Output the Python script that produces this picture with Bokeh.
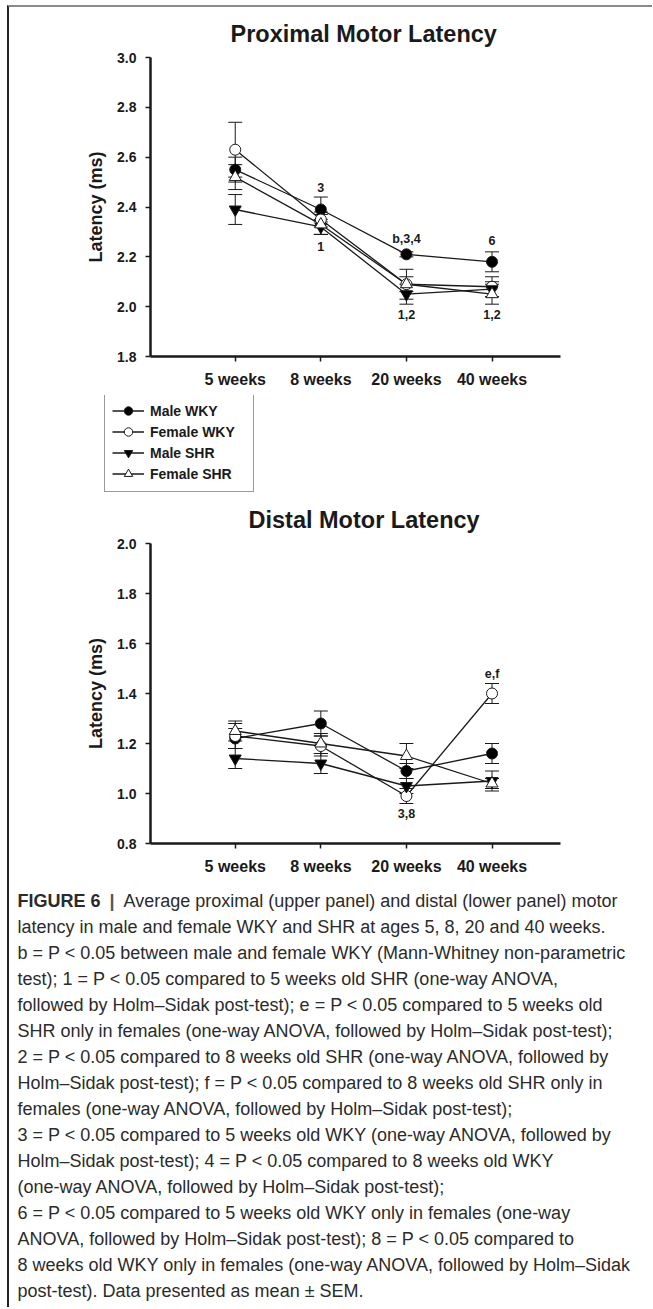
from bokeh.plotting import figure
from bokeh.models import Range1d, FixedTicker, Legend, LegendItem, PrintfTickFormatter
from bokeh.layouts import column
from bokeh.embed import file_html
from bokeh.resources import INLINE
from bokeh.core.properties import value

FONT = "Liberation Sans"

# ---------------- data ----------------
weeks = ["5 weeks", "8 weeks", "20 weeks", "40 weeks"]
groups = ["Male WKY", "Female WKY", "Male SHR", "Female SHR"]

# Proximal motor latency (ms), mean and SEM
prox_male_wky = [2.55, 2.39, 2.21, 2.18]
prox_female_wky = [2.63, 2.35, 2.09, 2.08]
prox_male_shr = [2.39, 2.32, 2.05, 2.07]
prox_female_shr = [2.52, 2.33, 2.09, 2.05]
prox_male_wky_sem = [0.05, 0.05, 0.01, 0.04]
prox_female_wky_sem = [0.11, 0.03, 0.03, 0.04]
prox_male_shr_sem = [0.06, 0.03, 0.04, 0.03]
prox_female_shr_sem = [0.05, 0.04, 0.06, 0.04]

# Distal motor latency (ms), mean and SEM
dist_male_wky = [1.22, 1.28, 1.09, 1.16]
dist_female_wky = [1.23, 1.19, 0.99, 1.40]
dist_male_shr = [1.14, 1.12, 1.03, 1.05]
dist_female_shr = [1.25, 1.20, 1.15, 1.04]
dist_male_wky_sem = [0.04, 0.05, 0.03, 0.04]
dist_female_wky_sem = [0.05, 0.04, 0.03, 0.04]
dist_male_shr_sem = [0.04, 0.04, 0.03, 0.04]
dist_female_shr_sem = [0.04, 0.04, 0.05, 0.02]

# significance annotations
prox_note_text = ["3", "1", "b,3,4", "1,2", "6", "1,2"]
prox_note_week = ["8 weeks", "8 weeks", "20 weeks", "20 weeks", "40 weeks", "40 weeks"]
prox_note_y = [2.48, 2.24, 2.27, 1.97, 2.265, 1.97]
dist_note_text = ["e,f", "3,8"]
dist_note_week = ["40 weeks", "20 weeks"]
dist_note_y = [1.48, 0.92]

prox_ticks = [1.8, 2.0, 2.2, 2.4, 2.6, 2.8, 3.0]
dist_ticks = [0.8, 1.0, 1.2, 1.4, 1.6, 1.8, 2.0]

caption_head = "FIGURE 6"
caption_first = "Average proximal (upper panel) and distal (lower panel) motor"
caption_lines = [
    "latency in male and female WKY and SHR at ages 5, 8, 20 and 40 weeks.",
    "b = P < 0.05 between male and female WKY (Mann-Whitney non-parametric",
    "test); 1 = P < 0.05 compared to 5 weeks old SHR (one-way ANOVA,",
    "followed by Holm\u2013Sidak post-test); e = P < 0.05 compared to 5 weeks old",
    "SHR only in females (one-way ANOVA, followed by Holm\u2013Sidak post-test);",
    "2 = P < 0.05 compared to 8 weeks old SHR (one-way ANOVA, followed by",
    "Holm\u2013Sidak post-test); f = P < 0.05 compared to 8 weeks old SHR only in",
    "females (one-way ANOVA, followed by Holm\u2013Sidak post-test);",
    "3 = P < 0.05 compared to 5 weeks old WKY (one-way ANOVA, followed by",
    "Holm\u2013Sidak post-test); 4 = P < 0.05 compared to 8 weeks old WKY",
    "(one-way ANOVA, followed by Holm\u2013Sidak post-test);",
    "6 = P < 0.05 compared to 5 weeks old WKY only in females (one-way",
    "ANOVA, followed by Holm\u2013Sidak post-test); 8 = P < 0.05 compared to",
    "8 weeks old WKY only in females (one-way ANOVA, followed by Holm\u2013Sidak",
    "post-test). Data presented as mean \u00b1 SEM.",
]

# ---------------- styling ----------------
marker_of = {"Male WKY": "circle", "Female WKY": "circle",
             "Male SHR": "inverted_triangle", "Female SHR": "triangle"}
fill_of = {"Male WKY": "black", "Female WKY": "white",
           "Male SHR": "black", "Female SHR": "white"}
size_of = {"Male WKY": 11, "Female WKY": 11, "Male SHR": 12, "Female SHR": 12}
INK = "#1a1a1a"

W = 643
xi = list(range(len(weeks)))


def make_chart(title, title_off, means, sems, y0, y1, ticks, notes, height, btop, bbottom):
    p = figure(width=W, height=height, x_range=Range1d(-0.99, 3.8), y_range=Range1d(y0, y1),
               toolbar_location=None, output_backend="svg", min_border_left=141,
               min_border_right=W - 141 - 410, min_border_top=btop, min_border_bottom=bbottom)
    p.frame_align = False
    p.outline_line_color = None
    p.xgrid.visible = False
    p.ygrid.visible = False
    p.title.text = title
    p.title.text_font = FONT
    p.title.text_font_size = "23.5px"
    p.title.text_font_style = "bold"
    p.title.text_color = INK
    p.title.align = "left"
    p.title.offset = title_off
    p.title.standoff = 21

    for ax in (p.xaxis[0], p.yaxis[0]):
        ax.axis_line_width = 2.5
        ax.axis_line_color = INK
        ax.major_tick_line_width = 1.5
        ax.major_tick_line_color = INK
        ax.major_tick_in = 0
        ax.major_tick_out = 5
        ax.minor_tick_line_color = None
        ax.major_label_text_font = FONT
        ax.major_label_text_font_style = "bold"
        ax.major_label_text_color = INK
    p.xaxis.ticker = FixedTicker(ticks=xi)
    p.xaxis.major_label_overrides = {i: w for i, w in enumerate(weeks)}
    p.xaxis.major_label_text_font_size = "16px"
    p.xaxis.major_label_standoff = 9
    p.yaxis.ticker = FixedTicker(ticks=ticks)
    p.yaxis.formatter = PrintfTickFormatter(format="%.1f")
    p.yaxis.major_label_text_font_size = "14px"
    p.yaxis.major_label_standoff = 9
    p.yaxis.axis_label = "Latency (ms)"
    p.yaxis.axis_label_text_font = FONT
    p.yaxis.axis_label_text_font_size = "18px"
    p.yaxis.axis_label_text_font_style = "bold"
    p.yaxis.axis_label_text_color = INK
    p.yaxis.axis_label_standoff = 8

    # error bars
    for g in groups:
        m, e = means[g], sems[g]
        lo = [a - b for a, b in zip(m, e)]
        hi = [a + b for a, b in zip(m, e)]
        p.segment(x0=xi, y0=lo, x1=xi, y1=hi, line_color=INK, line_width=1)
        p.scatter(x=xi + xi, y=lo + hi, marker="dash", size=14, line_color=INK, line_width=1)
    # connecting lines
    for g in groups:
        p.line(x=xi, y=means[g], line_color=INK, line_width=1.3)
    # markers
    for g in groups:
        p.scatter(x=xi, y=means[g], marker=marker_of[g], size=size_of[g],
                  fill_color=fill_of[g], line_color=INK, line_width=1)
    # annotations
    texts, wks, ys = notes
    p.text(x=[weeks.index(w) for w in wks], y=ys, text=texts, text_font=value(FONT),
           text_font_style="bold", text_font_size="12.5px", text_align="center",
           text_baseline="middle", text_color=INK)
    return p


prox_means = {"Male WKY": prox_male_wky, "Female WKY": prox_female_wky,
              "Male SHR": prox_male_shr, "Female SHR": prox_female_shr}
prox_sems = {"Male WKY": prox_male_wky_sem, "Female WKY": prox_female_wky_sem,
             "Male SHR": prox_male_shr_sem, "Female SHR": prox_female_shr_sem}
dist_means = {"Male WKY": dist_male_wky, "Female WKY": dist_female_wky,
              "Male SHR": dist_male_shr, "Female SHR": dist_female_shr}
dist_sems = {"Male WKY": dist_male_wky_sem, "Female WKY": dist_female_wky_sem,
             "Male SHR": dist_male_shr_sem, "Female SHR": dist_female_shr_sem}

p1 = make_chart("Proximal Motor Latency", 80, prox_means, prox_sems, 1.8, 3.0, prox_ticks,
                (prox_note_text, prox_note_week, prox_note_y), 388, 50, 39)
p2 = make_chart("Distal Motor Latency", 98, dist_means, dist_sems, 0.8, 2.0, dist_ticks,
                (dist_note_text, dist_note_week, dist_note_y), 387, 50, 37)

# ---------------- legend panel ----------------
LH = 98
lf = figure(width=W, height=LH, x_range=Range1d(0, 1), y_range=Range1d(0, 1),
            toolbar_location=None, output_backend="svg", min_border=0,
            x_axis_location=None, y_axis_location=None)
lf.frame_align = False
lf.outline_line_color = None
lf.xgrid.visible = False
lf.ygrid.visible = False
items = []
for g in groups:
    # legend proxies placed outside the visible range
    lr = lf.line(x=[5, 6], y=[5, 5], line_color=INK, line_width=1.3)
    mr = lf.scatter(x=[5], y=[5], marker=marker_of[g], size=size_of[g],
                    fill_color=fill_of[g], line_color=INK, line_width=1)
    items.append(LegendItem(label=g, renderers=[lr, mr]))
legend = Legend(items=items, location=(95, 1), orientation="vertical",
                glyph_width=32, glyph_height=21, label_height=21, label_width=96,
                spacing=-3, padding=7, margin=0, label_standoff=6,
                label_text_font=FONT, label_text_font_size="14px",
                label_text_font_style="bold", label_text_color=INK,
                border_line_color="#333333", border_line_width=1,
                background_fill_color="white", background_fill_alpha=1)
lf.add_layout(legend)

# ---------------- caption panel ----------------
CH = 427
cf = figure(width=W, height=CH, x_range=Range1d(0, W), y_range=Range1d(CH, 0),
            toolbar_location=None, output_backend="svg", min_border=0,
            x_axis_location=None, y_axis_location=None)
cf.frame_align = False
cf.outline_line_color = None
cf.xgrid.visible = False
cf.ygrid.visible = False
CAP_SIZE = "18px"
CAP_INK = "#2b2b2b"
cf.text(x=[8], y=[20], text=[caption_head], text_font=value(FONT), text_font_style="bold",
        text_font_size=CAP_SIZE, text_baseline="middle", text_color=CAP_INK)
cf.text(x=[100], y=[20], text=["|"], text_font=value(FONT), text_font_style="bold",
        text_font_size=CAP_SIZE, text_baseline="middle", text_color="#555555")
cf.text(x=[114], y=[20], text=[caption_first],
        text_font=value(FONT), text_font_size=CAP_SIZE, text_baseline="middle",
        text_color=CAP_INK)
cf.text(x=[8] * len(caption_lines), y=[46 + 26 * i for i in range(len(caption_lines))],
        text=caption_lines, text_font=value(FONT), text_font_size=CAP_SIZE,
        text_baseline="middle", text_color=CAP_INK)

layout = column(p1, lf, p2, cf, spacing=0,
                styles={"margin-left": "7px", "margin-top": "5px",
                        "border-left": "2px solid #222222", "border-top": "2px solid #8a8a8a"})

open("out.html", "w").write(file_html(layout, INLINE))
